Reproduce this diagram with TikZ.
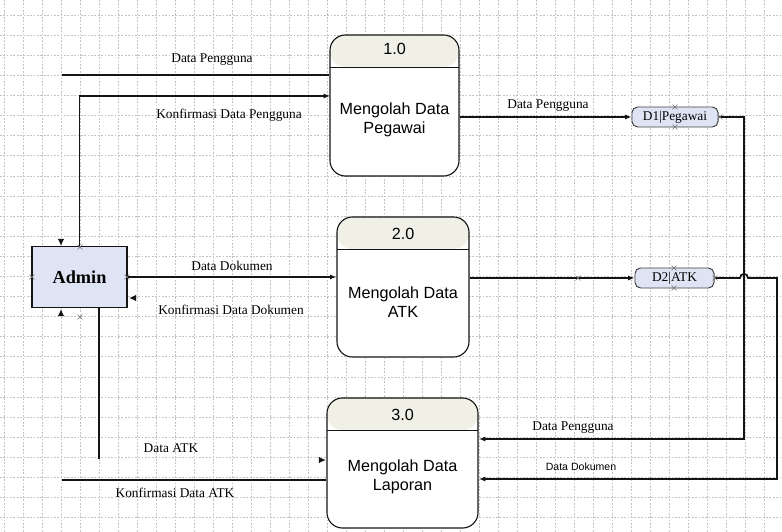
\documentclass[tikz,border=0pt]{standalone}
\usepackage{fontspec}
\setmainfont{Liberation Serif}
\setsansfont{Liberation Sans}
\usepackage{xcolor}
\usepackage{tikz}
\usetikzlibrary{arrows.meta,positioning,calc,shapes.misc}
\definecolor{dfdGrid}{RGB}{195,195,195}
\definecolor{dfdHead}{RGB}{240,240,230}
\definecolor{dfdBlue}{RGB}{222,228,243}
\definecolor{dfdLine}{RGB}{20,20,20}

\begin{document}
\begin{tikzpicture}[
    x=0.025cm, y=-0.025cm,
    gridline/.style={draw=dfdGrid, line width=0.35pt, dash pattern=on 1.2pt off 1.2pt},
    proc/.style={rectangle, rounded corners=11pt, draw=dfdLine, line width=0.8pt, fill=white, inner sep=0pt,
        path picture={
            \fill[dfdHead] (path picture bounding box.north west) rectangle ([yshift=-0.8cm]path picture bounding box.north east);
            \draw[dfdLine, line width=0.6pt] ([yshift=-0.8cm]path picture bounding box.north west) -- ([yshift=-0.8cm]path picture bounding box.north east);}},
    procnum/.style={font=\sffamily\fontsize{11.5}{13.5}\selectfont, inner sep=0pt},
    proctext/.style={font=\sffamily\fontsize{11.5}{13.5}\selectfont, align=center, inner sep=0pt},
    entity/.style={rectangle, draw=dfdLine, line width=0.8pt, fill=dfdBlue, minimum width=2.375cm, minimum height=1.525cm, font=\bfseries\fontsize{13}{15}\selectfont},
    store/.style={rectangle, rounded corners=4pt, draw=dfdLine!80, line width=0.7pt, fill=dfdBlue, minimum height=0.5cm, inner sep=0pt, font=\fontsize{9.5}{10}\selectfont},
    lbl/.style={font=\fontsize{9.5}{11}\selectfont, inner sep=0pt},
    smalllbl/.style={font=\sffamily\fontsize{7.5}{9}\selectfont, inner sep=0pt},
    flow/.style={-{Latex[length=4.5pt,width=3.6pt]}, draw=dfdLine, line width=1.2pt},
    headonly/.style={-{Latex[length=5pt,width=4.6pt]}, draw=dfdLine, line width=1pt},
    plain/.style={draw=dfdLine, line width=1.2pt},
    xmark/.style={cross out, draw=dfdLine!60, line width=0.4pt, minimum size=3pt, inner sep=0pt}
]
\useasboundingbox (0,0) rectangle (782,532);
% background grid
\foreach \gx in {-1,...,40}
    \draw[gridline] (23+19*\gx,0) -- (23+19*\gx,532);
\foreach \gy in {0,...,25}
    \draw[gridline] (0,15+20.1*\gy) -- (782,15+20.1*\gy);

% processes
\node[proc, minimum width=3.225cm, minimum height=3.525cm] (p1) at (394.5,105.5) {};
\node[procnum] (p1num) at (394.5,49) {1.0};
\node[proctext] (p1text) at (394.5,120) {Mengolah Data\\Pegawai};
\node[proc, minimum width=3.3cm, minimum height=3.5cm] (p2) at (403,287) {};
\node[procnum] (p2num) at (403,234) {2.0};
\node[proctext] (p2text) at (403,302) {Mengolah Data\\ATK};
\node[proc, minimum width=3.775cm, minimum height=3.25cm] (p3) at (402.5,463) {};
\node[procnum] (p3num) at (402.5,415) {3.0};
\node[proctext] (p3text) at (402.5,477) {Mengolah Data\\Laporan};

% entity and stores
\node[entity] (admin) at (79.5,277) {Admin};
\node[store, minimum width=2.15cm] (d1) at (675,117) {D1|Pegawai};
\node[store, minimum width=1.975cm] (d2) at (674.5,278) {D2|ATK};

% free ends and bends
\coordinate (dpStart) at (62,75);
\coordinate (p1in) at (330,96);
\coordinate (atkEnd) at (99,459);
\coordinate (konfStart) at (62,480);
\coordinate (d1turn) at (744,117);
\coordinate (p3inA) at (479,439);
\coordinate (hopL) at (740,278);
\coordinate (hopR) at (748,278);
\coordinate (d2turn) at (777,278);
\coordinate (p3inB) at (479,479);
\coordinate (tipDown) at (61,246);
\coordinate (tipUp) at (61,309);
\coordinate (tipLeft) at (129,298);
\coordinate (tipRight) at (326,460);

% flows
\draw[plain] (dpStart) -- (dpStart -| p1.west);
\draw[flow] (admin.north) |- (p1in);
\draw[flow] (p1.east |- d1.west) -- (d1.west);
\draw[flow] (admin.east) -- (admin.east -| p2.west);
\draw[flow] (p2.east |- d2.west) -- (d2.west);
\draw[plain] (admin.south -| atkEnd) -- (atkEnd);
\draw[plain] (konfStart) -- (konfStart -| p3.west);
\draw[flow] (d1.east) -- (d1turn) |- (p3inA);
\draw[flow] (d2.east) -- (hopL) .. controls ($(hopL)+(0,-5.5)$) and ($(hopR)+(0,-5.5)$) .. (hopR) -- (d2turn) |- (p3inB);
\draw[headonly] ($(tipDown)+(0,-7)$) -- (tipDown);
\draw[headonly] ($(tipUp)+(0,7)$) -- (tipUp);
\draw[headonly] ($(tipLeft)+(7,0)$) -- (tipLeft);
\draw[headonly] ($(tipRight)+(-7,0)$) -- (tipRight);

% labels
\node[lbl] (lDP1) at (212,60) {Data Pengguna};
\node[lbl] (lKDP) at (229,115) {Konfirmasi Data Pengguna};
\node[lbl] (lDP2) at (548,106) {Data Pengguna};
\node[lbl] (lDD1) at (232,266) {Data Dokumen};
\node[lbl] (lKDD) at (231,310) {Konfirmasi Data Dokumen};
\node[lbl] (lATK) at (171,448) {Data ATK};
\node[lbl] (lKATK) at (175,493) {Konfirmasi Data ATK};
\node[lbl] (lDP3) at (573,428) {Data Pengguna};
\node[smalllbl] (lDD2) at (581,467) {Data Dokumen};

% connection marks
\foreach \mx/\my [count=\i] in {80/247, 32/277, 127/277, 80/317, 675/107, 675/127, 720/117, 674/268, 674/288, 715/278, 578/278}
    \node[xmark] (xm\i) at (\mx,\my) {};
\end{tikzpicture}
\end{document}
